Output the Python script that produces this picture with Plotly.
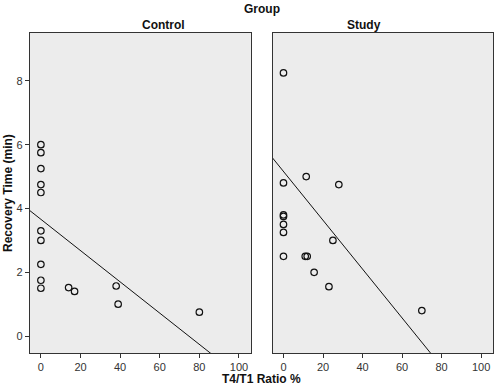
import plotly.graph_objects as go

# Control group
control_x = [0, 0, 0, 0, 0, 0, 0, 0, 0, 0, 14, 17, 38, 39, 80]
control_y = [6.0, 5.75, 5.25, 4.75, 4.5, 3.3, 3.0, 2.25, 1.75, 1.5, 1.52, 1.4, 1.57, 1.0, 0.75]
# Study group
study_x = [0, 0, 11.5, 28, 0, 0, 0, 0, 0, 11, 12, 25, 15.5, 23, 70]
study_y = [8.25, 4.8, 5.0, 4.75, 3.8, 3.75, 3.5, 3.25, 2.5, 2.5, 2.5, 3.0, 2.0, 1.55, 0.8]

# Fit lines (intercept, slope)
control_fit = (3.66, -0.049)
study_fit = (5.16, -0.0765)

x_ticks = [0, 20, 40, 60, 80, 100]
y_ticks = [0, 2, 4, 6, 8]
x_range = [-5.5, 106]
y_range = [-0.53, 9.5]

fig = go.Figure()

def fit_line(fit):
    xs = [x_range[0], x_range[1]]
    ys = [fit[0] + fit[1] * v for v in xs]
    return xs, ys

marker = dict(symbol="circle-open", size=6.5, color="#111111", line=dict(width=1.2))

fig.add_trace(go.Scatter(x=control_x, y=control_y, mode="markers", marker=marker,
                         xaxis="x", yaxis="y", showlegend=False))
lx, ly = fit_line(control_fit)
fig.add_trace(go.Scatter(x=lx, y=ly, mode="lines", line=dict(color="#111111", width=1),
                         xaxis="x", yaxis="y", showlegend=False))

fig.add_trace(go.Scatter(x=study_x, y=study_y, mode="markers", marker=marker,
                         xaxis="x2", yaxis="y2", showlegend=False))
lx, ly = fit_line(study_fit)
fig.add_trace(go.Scatter(x=lx, y=ly, mode="lines", line=dict(color="#111111", width=1),
                         xaxis="x2", yaxis="y2", showlegend=False))

font = "Liberation Sans, Arial, sans-serif"
axis_common = dict(showline=True, linecolor="#333333", linewidth=1.3, mirror=True,
                   showgrid=False, zeroline=False, ticklen=4, automargin=False,
                   tickcolor="#333333", tickfont=dict(size=11, color="#333333", family=font))

fig.update_layout(
    width=497, height=388,
    margin=dict(l=30, r=4, t=33, b=35),
    paper_bgcolor="white",
    plot_bgcolor="#ececec",
    xaxis=dict(domain=[0, 0.477], range=x_range, tickvals=x_ticks, anchor="y", ticks="outside", **axis_common),
    yaxis=dict(domain=[0, 1], range=y_range, tickvals=y_ticks, anchor="x", ticks="outside", **axis_common),
    xaxis2=dict(domain=[0.524, 1], range=x_range, tickvals=x_ticks, anchor="y2", ticks="outside", **axis_common),
    yaxis2=dict(domain=[0, 1], range=y_range, tickvals=y_ticks, anchor="x2", ticks="",
                showticklabels=False, **axis_common),
    annotations=[
        dict(text="<b>Group</b>", x=0.5, y=1, xref="paper", yref="paper", yanchor="middle",
             yshift=24, showarrow=False, font=dict(size=12, family=font, color="#111111")),
        dict(text="<b>Control</b>", x=0.2385, y=1, xref="paper", yref="paper",
             yanchor="middle", yshift=8, showarrow=False, font=dict(size=12, family=font, color="#111111")),
        dict(text="<b>Study</b>", x=0.762, y=1, xref="paper", yref="paper",
             yanchor="middle", yshift=8, showarrow=False, font=dict(size=12, family=font, color="#111111")),
        dict(text="<b>T4/T1 Ratio %</b>", x=0.5, y=0, xref="paper", yref="paper", yanchor="middle",
             yshift=-26, showarrow=False, font=dict(size=12, family=font, color="#111111")),
        dict(text="<b>Recovery Time (min)</b>", x=0, y=0.5, xref="paper", yref="paper",
             xanchor="center", xshift=-22, textangle=-90, showarrow=False,
             font=dict(size=12, family=font, color="#111111")),
    ],
)

fig.write_html("out.html", config={"displayModeBar": False},
               post_script="document.body.style.margin='0';")
